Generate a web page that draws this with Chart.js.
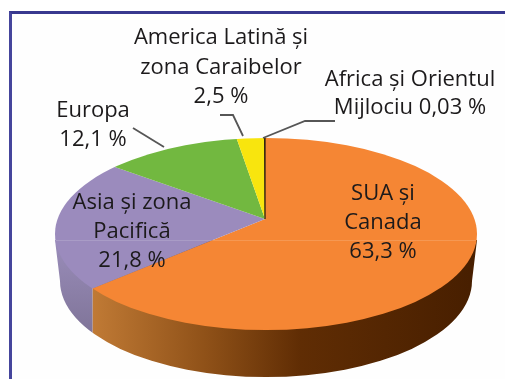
<!DOCTYPE html>
<html lang="ro">
<head>
<meta charset="utf-8">
<title>Pie</title>
<script src="https://cdn.jsdelivr.net/npm/chart.js@4"></script>
<style>
    html, body { margin: 0; padding: 0; background: #fff; overflow: hidden; }
    #frame { position: absolute; left: 9px; top: 11px; width: 496px; height: 368px;
             box-sizing: border-box; border-left: 3px solid #45459c; border-top: 3px solid #38388f; background: #fefefe; }
    #pie { position: absolute; left: 0; top: 0; }
</style>
</head>
<body>
<div id="frame"></div>
<canvas id="pie" width="505" height="379"></canvas>
<script>
const categories = ['SUA și Canada', 'Asia și zona Pacifică', 'Europa', 'America Latină și zona Caraibelor', 'Africa și Orientul Mijlociu'];
const shares = [63.3, 21.8, 12.1, 2.5, 0.03];
const sliceColors = ['#f58634', '#9b8bbd', '#72b840', '#f8e50e', '#33240f'];

const labelLines = [
    ['SUA şi', 'Canada', '63,3 %'],
    ['Asia şi zona', 'Pacifică', '21,8 %'],
    ['Europa', '12,1 %'],
    ['America Latină şi', 'zona Caraibelor', '2,5 %'],
    ['Africa şi Orientul', 'Mijlociu 0,03 %']
];
const labelSpots = [[383, 200], [132, 209], [93, 117], [221, 44], [410, 86]];
const labelGap = [29, 29, 29, 29.5, 28];

// top face ellipse, the wedges meet at an off-centre apex like in the picture
const rim = { x: 266, y: 234, rx: 211, ry: 96 };
const base = { x: 266, y: 281, rx: 206, ry: 96 };
const apex = { x: 265, y: 219, rx: 250, ry: 114 };

function rimX(angle) {
    const dx = Math.cos(angle) * apex.rx / rim.rx, dy = Math.sin(angle) * apex.ry / rim.ry;
    const ox = (apex.x - rim.x) / rim.rx, oy = (apex.y - rim.y) / rim.ry;
    const a = dx * dx + dy * dy, b = 2 * (ox * dx + oy * dy), c = ox * ox + oy * oy - 1;
    const t = (-b + Math.sqrt(b * b - 4 * a * c)) / (2 * a);
    return apex.x + t * Math.cos(angle) * apex.rx;
}

function sidePath(ctx) {
    ctx.beginPath();
    ctx.moveTo(rim.x - rim.rx, rim.y + 6);
    ctx.lineTo(rim.x + rim.rx, rim.y + 6);
    ctx.lineTo(base.x + base.rx, base.y);
    ctx.ellipse(base.x, base.y, base.rx, base.ry, 0, 0, Math.PI);
    ctx.closePath();
}

const pie3d = {
    id: 'pie3d',
    beforeDatasetsDraw(chart) {
        const ctx = chart.ctx, arcs = chart.getDatasetMeta(0).data;
        const split = rimX(arcs[0].endAngle);

        // side wall
        ctx.save();
        sidePath(ctx);
        ctx.clip();
        const grad = ctx.createLinearGradient(split, 0, 470, 0);
        grad.addColorStop(0, '#c07a35');
        grad.addColorStop(0.3, '#8f5118');
        grad.addColorStop(0.55, '#602d04');
        grad.addColorStop(1, '#481f00');
        ctx.fillStyle = grad;
        ctx.fillRect(split, 200, 505 - split, 179);
        const side = ctx.createLinearGradient(0, 240, 0, 335);
        side.addColorStop(0, '#9a8dba');
        side.addColorStop(1, '#7f7498');
        ctx.fillStyle = side;
        ctx.fillRect(0, 200, split, 179);
        ctx.restore();

        // top face
        ctx.save();
        ctx.beginPath();
        ctx.ellipse(rim.x, rim.y, rim.rx, rim.ry, 0, 0, Math.PI * 2);
        ctx.clip();
        const r = arcs[0].outerRadius;
        ctx.translate(apex.x, apex.y);
        ctx.scale(apex.rx / r, apex.ry / r);
        ctx.translate(-arcs[0].x, -arcs[0].y);
    },
    afterDatasetsDraw(chart) {
        const ctx = chart.ctx;
        ctx.restore();

        // faint seam across the pie
        ctx.strokeStyle = 'rgba(255,255,255,0.15)';
        ctx.lineWidth = 1;
        ctx.beginPath();
        ctx.moveTo(rim.x - rim.rx + 1, 240.5);
        ctx.lineTo(rim.x + rim.rx - 1, 240.5);
        ctx.stroke();

        // leader lines
        ctx.strokeStyle = '#565656';
        ctx.lineWidth = 1.8;
        [[[133, 128], [164, 147]], [[220, 115], [233, 115], [243, 136]], [[335, 121], [305, 121], [263, 138]]].forEach(pts => {
            ctx.beginPath();
            pts.forEach((p, i) => i ? ctx.lineTo(p[0], p[1]) : ctx.moveTo(p[0], p[1]));
            ctx.stroke();
        });

        ctx.fillStyle = '#1c1a1b';
        ctx.font = '22px "Open Sans"';
        ctx.textAlign = 'center';
        ctx.textBaseline = 'alphabetic';
        labelLines.forEach((lines, i) => {
            lines.forEach((line, j) => ctx.fillText(line, labelSpots[i][0], labelSpots[i][1] + j * labelGap[i]));
        });
    }
};

new Chart(document.getElementById('pie'), {
    type: 'pie',
    data: {
        labels: categories,
        datasets: [{
            data: shares,
            backgroundColor: sliceColors,
            borderColor: sliceColors,
            borderWidth: [0, 0, 0, 0, 1]
        }]
    },
    options: {
        responsive: false,
        animation: false,
        plugins: { legend: { display: false }, tooltip: { enabled: false } }
    },
    plugins: [pie3d]
});
</script>
</body>
</html>
